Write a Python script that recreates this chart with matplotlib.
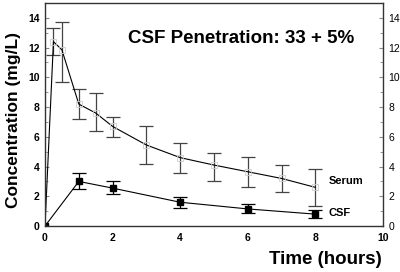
import matplotlib
matplotlib.use("Agg")
import matplotlib.pyplot as plt
from matplotlib.ticker import MultipleLocator

plt.rcParams['font.family'] = ['Liberation Sans', 'DejaVu Sans']

serum_t = [0, 0.25, 0.5, 1, 1.5, 2, 3, 4, 5, 6, 7, 8]
serum_mean = [0, 12.4, 11.85, 8.2, 7.6, 6.7, 5.45, 4.6, 4.1, 3.65, 3.2, 2.6]
serum_hi = [0, 13.3, 13.7, 9.2, 8.95, 7.35, 6.75, 5.6, 4.9, 4.65, 4.1, 3.85]
serum_lo = [0, 11.5, 9.7, 7.2, 6.4, 6.0, 4.2, 3.55, 3.05, 2.65, 2.3, 1.35]

csf_t = [0, 1, 2, 4, 6, 8]
csf_mean = [0, 3.0, 2.55, 1.6, 1.15, 0.8]
csf_hi = [0, 3.55, 3.0, 1.95, 1.5, 1.1]
csf_lo = [0, 2.5, 2.15, 1.2, 0.85, 0.55]

yticks = [0, 2, 4, 6, 8, 10, 12, 14]
xticks = [0, 2, 4, 6, 8, 10]

fig = plt.figure(figsize=(4, 2.72), dpi=100)
ax = fig.add_axes([0.1125, 0.169, 0.845, 0.82])

s_err = [[m - l for m, l in zip(serum_mean, serum_lo)], [h - m for m, h in zip(serum_mean, serum_hi)]]
c_err = [[m - l for m, l in zip(csf_mean, csf_lo)], [h - m for m, h in zip(csf_mean, csf_hi)]]

ax.errorbar(serum_t[1:], serum_mean[1:], yerr=[s_err[0][1:], s_err[1][1:]], fmt='none',
            ecolor='#444444', elinewidth=0.9, capsize=5, capthick=0.9)
ax.plot(serum_t, serum_mean, color='black', lw=0.8)
ax.plot(serum_t[1:], serum_mean[1:], 's', mfc='none', mec='#cccccc', ms=5, mew=0.6)

ax.errorbar(csf_t[1:], csf_mean[1:], yerr=[c_err[0][1:], c_err[1][1:]], fmt='none',
            ecolor='black', elinewidth=0.9, capsize=5, capthick=0.9)
ax.plot(csf_t, csf_mean, color='black', lw=0.8, marker='s', ms=5, mfc='black', mec='black')

ax.set_xlim(0, 10)
ax.set_ylim(0, 15)
ax.set_xticks(xticks)
ax.set_yticks(yticks)
ax.yaxis.set_minor_locator(MultipleLocator(1))
ax.tick_params(axis='y', which='both', direction='in', left=True, right=True,
               labelleft=True, labelright=True, length=3, color='#888888')
ax.tick_params(axis='y', which='minor', length=2)
ax.tick_params(axis='x', direction='in', length=0, pad=5)
ax.tick_params(axis='y', which='major', labelsize=7.5)
ax.tick_params(axis='x', labelsize=7.5)
for t in ax.yaxis.get_major_ticks():
    t.label1.set_fontweight('bold')
    t.label2.set_fontweight('normal')
for lab in ax.get_xticklabels():
    lab.set_fontweight('bold')
ax.tick_params(axis='y', which='major', pad=4)
for sp in ax.spines.values():
    sp.set_linewidth(1.0)
    sp.set_color('#333333')

ax.text(8.4, serum_mean[-1] + 0.4, 'Serum', fontsize=8, fontweight='bold', va='center')
ax.text(8.4, csf_mean[-1] + 0.05, 'CSF', fontsize=8, fontweight='bold', va='center')
ax.text(5.8, 12.6, 'CSF Penetration: 33 + 5%', fontsize=13.5, fontweight='bold',
        ha='center', va='center')

fig.text(0.035, 0.56, 'Concentration (mg/L)', rotation=90, fontsize=12.5,
         fontweight='bold', ha='center', va='center')
fig.text(0.955, 0.045, 'Time (hours)', fontsize=13.5, fontweight='bold', ha='right', va='center')

fig.savefig('out.png', dpi=100)
